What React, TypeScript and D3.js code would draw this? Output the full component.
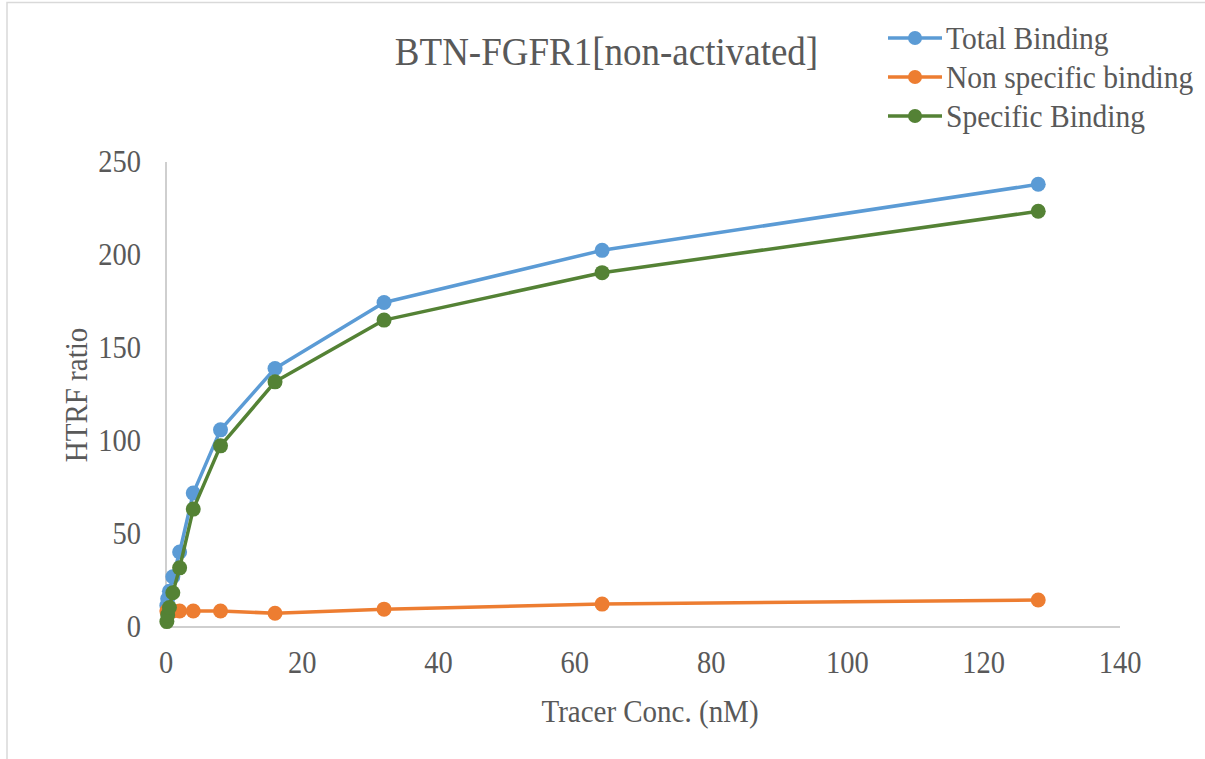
import React from "react";
import * as d3 from "d3";

const conc = [0.125, 0.25, 0.5, 1, 2, 4, 8, 16, 32, 64, 128];
const totalBinding = [11.5, 15.2, 19.2, 27, 40.3, 72, 106, 139, 174.5, 202.5, 238];
const nonSpecific = [8.6, 8.7, 8.7, 8.6, 8.6, 8.6, 8.6, 7.4, 9.6, 12.3, 14.5];
const specificBinding = [2.9, 6.5, 10.5, 18.4, 31.8, 63.4, 97.4, 131.8, 165, 190.5, 223.5];

const xTicks = [0, 20, 40, 60, 80, 100, 120, 140];
const yTicks = [0, 50, 100, 150, 200, 250];

const seriesNames = ["Total Binding", "Non specific binding", "Specific Binding"];
const seriesColors = ["#5b9bd5", "#ed7d31", "#548235"];
const seriesValues = [totalBinding, nonSpecific, specificBinding];

const W = 1205;
const H = 759;
const FONT = "'Liberation Serif', 'Times New Roman', serif";
const TEXT = "#595959";
const SY = 1.08;

function T(props: {
  x: number;
  y: number;
  size: number;
  anchor?: string;
  rotate?: number;
  children: React.ReactNode;
}) {
  const { x, y, size, anchor = "start", rotate = 0, children } = props;
  const tr = rotate
    ? `translate(${x},${y}) rotate(${rotate}) scale(1,${SY})`
    : `translate(${x},${y}) scale(1,${SY})`;
  return (
    <text transform={tr} dy="0.35em" textAnchor={anchor} fontSize={size} fill={TEXT}>
      {children}
    </text>
  );
}

export default function App() {
  const x = d3.scaleLinear().domain([0, 140]).range([166, 1120]);
  const y = d3.scaleLinear().domain([0, 250]).range([627, 162]);
  const line = d3
    .line<[number, number]>()
    .x((d) => x(d[0]))
    .y((d) => y(d[1]));

  return (
    <svg
      width={W}
      height={H}
      style={{ position: "absolute", left: 0, top: 0, background: "#fff" }}
      fontFamily={FONT}
    >
      <rect x={7} y={2.5} width={W + 20} height={H + 20} fill="#fff" stroke="#d9d9d9" strokeWidth={1.5} />
      {/* axes */}
      <line x1={x(0)} x2={x(0)} y1={y(250)} y2={y(0)} stroke="#bfbfbf" strokeWidth={1.5} />
      <line x1={x(0)} x2={x(140)} y1={y(0)} y2={y(0)} stroke="#bfbfbf" strokeWidth={1.5} />
      {yTicks.map((t) => (
        <T key={"y" + t} x={141} y={y(t) - 1} size={28.5} anchor="end">
          {t}
        </T>
      ))}
      {xTicks.map((t) => (
        <T key={"x" + t} x={x(t)} y={662} size={28.5} anchor="middle">
          {t}
        </T>
      ))}
      <T x={650} y={711} size={29} anchor="middle">
        Tracer Conc. (nM)
      </T>
      <T x={76} y={395} size={29} anchor="middle" rotate={-90}>
        HTRF ratio
      </T>
      <T x={606.5} y={51} size={37} anchor="middle">
        BTN-FGFR1[non-activated]
      </T>
      {/* series */}
      {seriesValues.map((vals, i) => {
        const pts: [number, number][] = conc.map((c, j) => [c, vals[j]]);
        return (
          <g key={seriesNames[i]}>
            <path d={line(pts) || ""} fill="none" stroke={seriesColors[i]} strokeWidth={3.5} strokeLinejoin="round" />
            {pts.map((p, j) => (
              <circle key={j} cx={x(p[0])} cy={y(p[1])} r={7.5} fill={seriesColors[i]} />
            ))}
          </g>
        );
      })}
      {/* legend */}
      {seriesNames.map((n, i) => {
        const ly = 38 + i * 39;
        return (
          <g key={"lg" + n}>
            <line x1={888} x2={942} y1={ly} y2={ly} stroke={seriesColors[i]} strokeWidth={3.5} />
            <circle cx={915} cy={ly} r={7} fill={seriesColors[i]} />
            <T x={946} y={ly} size={29.5}>
              {n}
            </T>
          </g>
        );
      })}
    </svg>
  );
}
